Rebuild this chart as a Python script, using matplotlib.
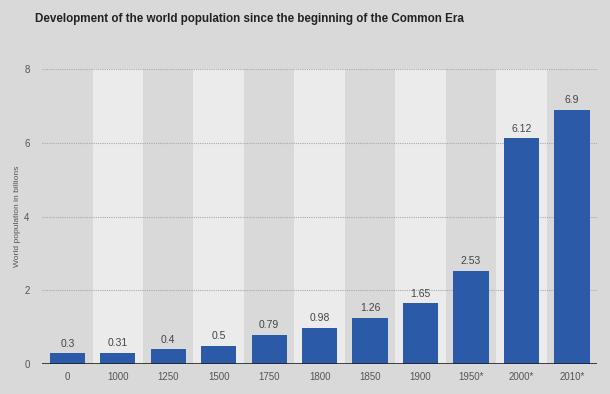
import numpy as np
import matplotlib
matplotlib.use('Agg')
import matplotlib.pyplot as plt

plt.rcParams['font.family'] = ['Liberation Sans', 'DejaVu Sans']

# data
years = ['0', '1000', '1250', '1500', '1750', '1800', '1850', '1900', '1950*', '2000*', '2010*']
population = [0.3, 0.31, 0.4, 0.5, 0.79, 0.98, 1.26, 1.65, 2.53, 6.12, 6.9]
y_ticks = [0, 2, 4, 6, 8]

bg = '#d9d9d9'
band = '#ebebeb'
bar_color = '#2b5ba8'

fig = plt.figure(figsize=(6.1, 3.94), dpi=100, facecolor=bg)
ax = fig.add_axes([0.069, 0.076, 0.910, 0.749])
ax.set_facecolor(bg)

x = np.arange(len(years))

# alternating light bands
for i in x:
    if i % 2 == 1:
        ax.axvspan(i - 0.5, i + 0.5, color=band, zorder=0, lw=0)

for t in y_ticks[1:]:
    ax.axhline(t, color='#aaaaaa', lw=0.8, ls=(0, (1, 1)), zorder=1)

ax.bar(x, population, width=0.7, color=bar_color, zorder=2)
ax.axhline(0, color='#222222', lw=1.2, zorder=3)

for xi, v in zip(x, population):
    ax.text(xi, v + 0.12, '%g' % v, ha='center', va='bottom', fontsize=7.5, color='#444444')

ax.set_xlim(-0.5, len(years) - 0.5)
ax.set_ylim(0, 8)
ax.set_xticks(x)
ax.set_xticklabels(years)
ax.set_yticks(y_ticks)
ax.tick_params(axis='both', length=0, labelsize=7, colors='#555555')
ax.tick_params(axis='y', pad=9)
ax.tick_params(axis='x', pad=6)
for s in ax.spines.values():
    s.set_visible(False)

ax.set_ylabel('World population in billions', fontsize=6, color='#555555', labelpad=2)

fig.text(0.057, 0.953, 'Development of the world population since the beginning of the Common Era',
         fontsize=8.4, fontweight='bold', color='#222222', ha='left', va='center')

fig.savefig('out.png', dpi=100, facecolor=bg)
